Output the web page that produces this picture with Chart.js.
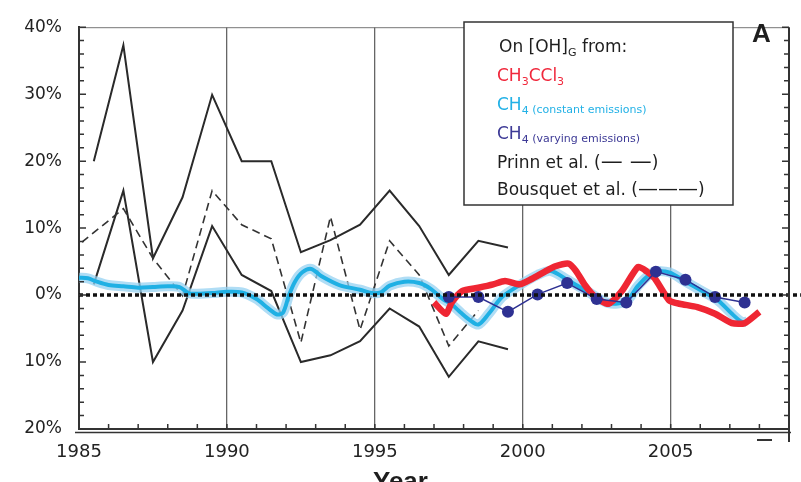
<!DOCTYPE html>
<html>
<head>
<meta charset="utf-8">
<script src="https://cdn.jsdelivr.net/npm/chart.js@4"></script>
<style>
  html, body { margin: 0; padding: 0; background: #fff; }
  #wrap { width: 801px; height: 482px; position: relative; }
</style>
</head>
<body>
<div id="wrap"><canvas id="chart"></canvas></div>
<script>
// Bousquet et al. envelope (solid), annual
const bousquetYears = [1985.5, 1986.5, 1987.5, 1988.5, 1989.5, 1990.5, 1991.5, 1992.5, 1993.5, 1994.5, 1995.5, 1996.5, 1997.5, 1998.5, 1999.5];
const bousquetHigh = [20, 37.3, 5.5, 14.6, 29.9, 20, 20, 6.4, 8.2, 10.5, 15.6, 10.3, 3.0, 8.1, 7.1];
const bousquetLow = [1.6, 15.6, -10, -2.3, 10.3, 3.0, 0.6, -10, -9.0, -6.9, -2.0, -4.7, -12.2, -6.9, -8.1];

// Prinn et al. (dashed)
const prinnYears = [1985.1, 1986.5, 1987.5, 1988.5, 1989.5, 1990.5, 1991.5, 1992.5, 1993.5, 1994.5, 1995.5, 1996.5, 1997.5, 1998.5];
const prinnValues = [7.9, 12.9, 5.5, -0.1, 15.6, 10.5, 8.4, -7.1, 11.7, -5.2, 8.1, 3.0, -7.6, -2.3];

// CH4 constant emissions (cyan)
const ch4ConstYears = [1985.0, 1985.3, 1985.6, 1986.0, 1986.5, 1987.0, 1987.5, 1988.0, 1988.4, 1988.7, 1989.0, 1989.5, 1990.0, 1990.5, 1991.0, 1991.4, 1991.7, 1991.9, 1992.1, 1992.3, 1992.55, 1992.85, 1993.2, 1993.8, 1994.5, 1994.9, 1995.2, 1995.5, 1996.0, 1996.5, 1996.9, 1997.3, 1997.6, 1997.9, 1998.2, 1998.5, 1998.85, 1999.3, 1999.9, 2000.5, 2000.95, 2001.5, 2002.2, 2002.9, 2003.5, 2003.9, 2004.4, 2004.95, 2005.5, 2006.06, 2006.6, 2007.07, 2007.4, 2007.55];
const ch4ConstValues = [2.6, 2.5, 2.0, 1.5, 1.3, 1.1, 1.2, 1.3, 1.2, 0.3, 0.2, 0.3, 0.5, 0.4, -0.6, -2.0, -2.9, -2.6, 0.0, 2.0, 3.4, 3.9, 2.8, 1.5, 0.8, 0.3, 0.4, 1.4, 2.0, 1.8, 0.9, -0.6, -1.4, -2.6, -3.7, -4.4, -2.8, -0.3, 1.5, 3.0, 3.6, 2.3, 0.5, -1.2, -0.9, 1.4, 3.4, 3.4, 2.0, 0.6, -0.8, -2.8, -4.0, -4.0];

// CH3CCl3 (red)
const mcfYears = [1997.0, 1997.4, 1997.6, 1997.95, 1998.5, 1999.0, 1999.4, 1999.9, 2000.3, 2000.75, 2001.1, 2001.55, 2001.8, 2002.1, 2002.45, 2002.9, 2003.35, 2003.9, 2004.2, 2004.46, 2004.95, 2005.3, 2005.9, 2006.5, 2007.07, 2007.5, 2008.0];
const mcfValues = [-1.1, -2.8, -1.1, 0.6, 1.1, 1.6, 2.1, 1.6, 2.4, 3.5, 4.3, 4.7, 3.6, 1.5, -0.3, -1.3, 0.6, 4.2, 3.5, 2.5, -0.8, -1.3, -1.8, -2.8, -4.2, -4.2, -2.5];

// CH4 varying emissions (navy dots)
const ch4VarYears = [1997.5, 1998.5, 1999.5, 2000.5, 2001.5, 2002.5, 2003.5, 2004.5, 2005.5, 2006.5, 2007.5];
const ch4VarValues = [-0.3, -0.3, -2.5, 0.1, 1.8, -0.6, -1.1, 3.5, 2.3, -0.3, -1.1];

const xTickLabels = [1985, 1990, 1995, 2000, 2005];
const zeroLine = [1985, 2009.4];

const pts = (xs, ys) => xs.map((x, i) => ({ x: x, y: ys[i] }));

// Draws a run of text pieces (for subscripts)
const rich = (ctx, x, y, parts) => {
    parts.forEach(([txt, font, color, dy]) => {
        ctx.font = font;
        ctx.fillStyle = color;
        ctx.fillText(txt, x, y + dy);
        x += ctx.measureText(txt).width;
    });
};

const decorPlugin = {
    id: 'decor',
    afterDatasetsDraw(chart) {
        const ctx = chart.ctx;
        const area = chart.chartArea;
        const xs = chart.scales.x;
        const ys = chart.scales.y;
        ctx.save();

        // top frame line
        ctx.strokeStyle = '#777';
        ctx.lineWidth = 1;
        ctx.beginPath();
        ctx.moveTo(area.left, area.top + 0.5);
        ctx.lineTo(area.right, area.top + 0.5);
        ctx.stroke();

        // right axis line
        ctx.strokeStyle = '#333';
        ctx.lineWidth = 2;
        ctx.beginPath();
        ctx.moveTo(area.right, area.top);
        ctx.lineTo(area.right, area.bottom + 13);
        ctx.stroke();

        // second bottom line
        ctx.lineWidth = 1.5;
        ctx.beginPath();
        ctx.moveTo(area.left - 4, area.bottom + 3.5);
        ctx.lineTo(area.right + 2, area.bottom + 3.5);
        ctx.stroke();

        // start of next panel, bottom right
        ctx.lineWidth = 2;
        ctx.beginPath();
        ctx.moveTo(757, area.bottom + 11);
        ctx.lineTo(772, area.bottom + 11);
        ctx.stroke();

        // inward ticks on y axes
        ctx.lineWidth = 1.5;
        for (let v = -20; v <= 40; v += 2) {
            const py = ys.getPixelForValue(v);
            const len = v % 10 === 0 ? 7 : 5;
            ctx.beginPath();
            ctx.moveTo(area.left, py);
            ctx.lineTo(area.left + len, py);
            ctx.moveTo(area.right, py);
            ctx.lineTo(area.right - len, py);
            ctx.stroke();
        }
        // inward ticks on x axis
        for (let yr = 1986; yr <= 2008; yr++) {
            const px = xs.getPixelForValue(yr);
            ctx.beginPath();
            ctx.moveTo(px, area.bottom);
            ctx.lineTo(px, area.bottom - 5);
            ctx.stroke();
        }

        // legend box
        ctx.fillStyle = '#fff';
        ctx.fillRect(464, 22, 269, 183);
        ctx.strokeStyle = '#333';
        ctx.lineWidth = 1.5;
        ctx.strokeRect(464, 22, 269, 183);

        const big = '17px "DejaVu Sans"';
        const sub = '11px "DejaVu Sans"';
        const note = '11px "DejaVu Sans"';
        ctx.textBaseline = 'alphabetic';
        ctx.textAlign = 'left';
        rich(ctx, 499, 52, [['On [OH]', big, '#1e1e1e', 0], ['G', sub, '#1e1e1e', 4], [' from:', big, '#1e1e1e', 0]]);
        rich(ctx, 497, 81, [['CH', big, '#f0283c', 0], ['3', sub, '#f0283c', 4], ['CCl', big, '#f0283c', 0], ['3', sub, '#f0283c', 4]]);
        rich(ctx, 497, 110, [['CH', big, '#22b1e6', 0], ['4', sub, '#22b1e6', 4], [' (constant emissions)', note, '#22b1e6', 3]]);
        rich(ctx, 497, 139, [['CH', big, '#3d3a96', 0], ['4', sub, '#3d3a96', 4], [' (varying emissions)', note, '#3d3a96', 3]]);
        rich(ctx, 497, 168, [['Prinn et al. (', big, '#1e1e1e', 0], ['— —', '22px "DejaVu Sans"', '#1e1e1e', 0], [')', big, '#1e1e1e', 0]]);
        rich(ctx, 497, 195, [['Bousquet et al. (', big, '#1e1e1e', 0], ['———', '20px "DejaVu Sans"', '#1e1e1e', 0], [')', big, '#1e1e1e', 0]]);

        // panel letter
        ctx.font = 'bold 26px "Liberation Sans"';
        ctx.fillStyle = '#1e1e1e';
        ctx.fillText('A', 752, 42);

        // x axis title, cut off at the bottom
        ctx.font = 'bold 26px "Liberation Sans"';
        ctx.fillText('Year', 373, 490);

        ctx.restore();
    }
};

const lineSet = (label, data, color, width, extra) => Object.assign({
    label: label,
    data: data,
    borderColor: color,
    backgroundColor: color,
    borderWidth: width,
    pointRadius: 0,
    fill: false,
    tension: 0
}, extra || {});

const datasets = [
    lineSet('zero', pts(zeroLine, [0, 0]), '#111', 3.5, { borderDash: [4, 3], order: 0, clip: false }),
    lineSet('CH4 varying', pts(ch4VarYears, ch4VarValues), '#2e3192', 1.5, { pointRadius: 6, pointBackgroundColor: '#2e3192', pointBorderWidth: 0, order: 1 }),
    lineSet('CH3CCl3', pts(mcfYears, mcfValues), '#ef2633', 6.5, { order: 2, tension: 0.2 }),
    lineSet('CH4 constant', pts(ch4ConstYears, ch4ConstValues), '#1fb0e4', 4, { order: 3, tension: 0.3 }),
    lineSet('CH4 constant halo', pts(ch4ConstYears, ch4ConstValues), 'rgba(150,210,242,0.75)', 10, { order: 4, tension: 0.3 }),
    lineSet('Prinn', pts(prinnYears, prinnValues), '#333', 1.6, { borderDash: [8, 5], order: 5 }),
    lineSet('Bousquet high', pts(bousquetYears, bousquetHigh), '#2a2a2a', 2, { order: 6 }),
    lineSet('Bousquet low', pts(bousquetYears, bousquetLow), '#2a2a2a', 2, { order: 7 })
];

new Chart(document.getElementById('chart'), {
    type: 'line',
    data: { datasets: datasets },
    options: {
        responsive: true,
        maintainAspectRatio: false,
        devicePixelRatio: 1,
        animation: false,
        layout: { padding: { top: 13, right: 12, left: 0, bottom: 0 } },
        plugins: {
            legend: { display: false },
            tooltip: { enabled: false }
        },
        scales: {
            x: {
                type: 'linear',
                min: 1985,
                max: 2009,
                afterFit: (scale) => { scale.height = 53; },
                afterBuildTicks: (scale) => { scale.ticks = xTickLabels.map(v => ({ value: v })); },
                ticks: {
                    padding: 13,
                    color: '#222',
                    font: { family: '"DejaVu Sans"', size: 18 },
                    callback: (v) => String(v)
                },
                grid: {
                    drawTicks: false,
                    color: (c) => (c.tick && c.tick.value === 1985) ? 'rgba(0,0,0,0)' : '#666',
                    lineWidth: 1.3
                },
                border: { display: true, color: '#333', width: 2 }
            },
            y: {
                min: -20,
                max: 40,
                afterFit: (scale) => { scale.width = 79; },
                ticks: {
                    stepSize: 10,
                    padding: 17,
                    color: '#222',
                    font: { family: '"DejaVu Sans"', size: 17 },
                    callback: (v) => Math.abs(v) + '%'
                },
                grid: { display: false, drawTicks: false },
                border: { display: true, color: '#333', width: 2 }
            }
        }
    },
    plugins: [decorPlugin]
});
</script>
</body>
</html>
